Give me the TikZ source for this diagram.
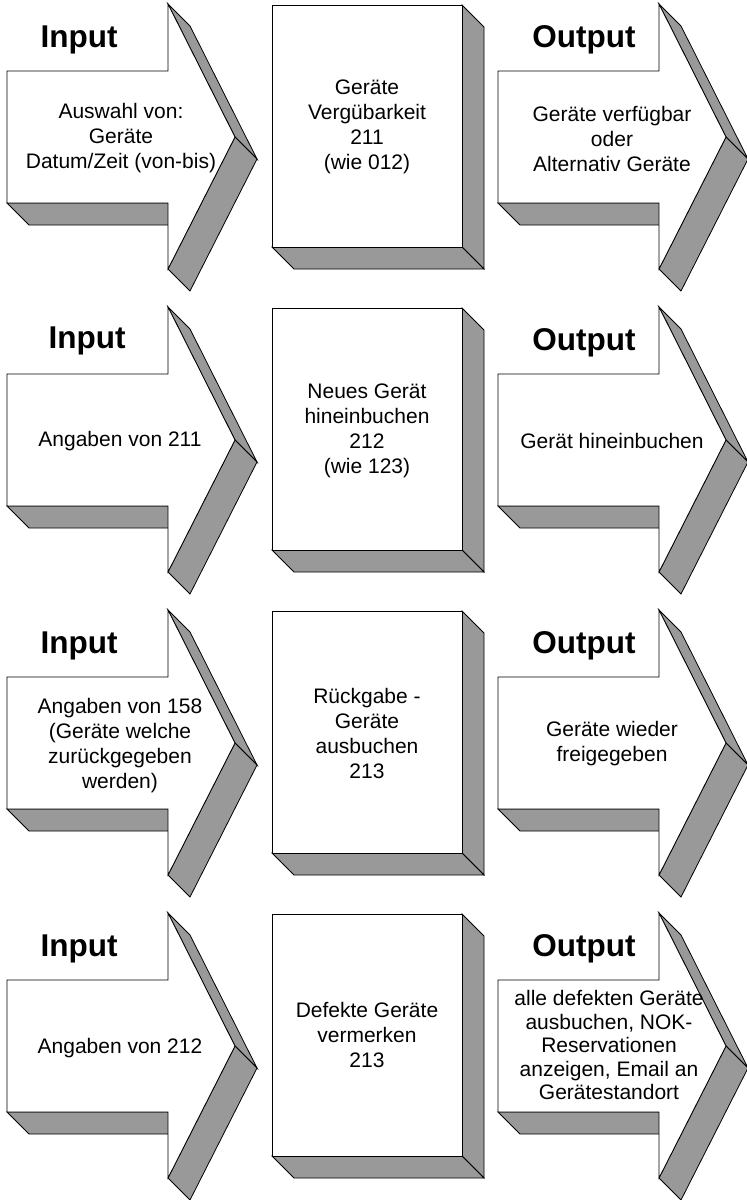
\documentclass[tikz,border=0pt]{standalone}
\usepackage{fontspec}
\setmainfont{Liberation Sans}
\usepackage{tikz}
\definecolor{sidegray}{RGB}{153,153,153}
\tikzset{
  face/.style={draw=black,fill=white,line width=0.8pt},
  side/.style={draw=black,fill=sidegray,line width=0.8pt},
  % 3D block arrow, origin = top left corner of the shaft
  pics/ioarrow/.style={code={
    \draw[side] (161,-67) -- (183,-45) -- (250,88) -- (228,66) -- cycle;
    \draw[side] (228,66) -- (250,88) -- (183,220) -- (161,198) -- cycle;
    \draw[side] (0,132) -- (22,154) -- (183,154) -- (161,132) -- cycle;
    \draw[face] (0,0) -- (161,0) -- (161,-67) -- (228,66) -- (161,198) -- (161,132) -- (0,132) -- cycle;
  }},
  % 3D box, origin = top left corner
  pics/procbox/.style={code={
    \draw[side] (190,0) -- (212,22) -- (212,264) -- (190,242) -- cycle;
    \draw[side] (0,242) -- (22,264) -- (212,264) -- (190,242) -- cycle;
    \draw[face] (0,0) rectangle (190,242);
  }},
}

\begin{document}
\begin{tikzpicture}[x=1pt,y=-1pt,
  txt/.style={align=center,inner sep=0pt,font=\fontsize{21}{25}\selectfont},
  ttl/.style={anchor=base,inner sep=0pt,font=\fontsize{31.5}{36}\selectfont\bfseries}]

        \useasboundingbox (0,0) rectangle (747,1200);

        % row 1
        \pic at (7,71) {ioarrow};
        \pic at (272,5) {procbox};
        \pic at (498,71) {ioarrow};
        \node[ttl] (ti1) at (79,47) {Input};
        \node[ttl] (to1) at (584,47) {Output};
        \node[txt] (in1) at (121,138) {Auswahl von:\\Geräte\\Datum/Zeit (von-bis)};
        \node[txt] (p1) at (367,127) {Geräte\\Vergübarkeit\\211\\(wie 012)};
        \node[txt] (out1) at (612,139) {Geräte verfügbar\\oder\\Alternativ Geräte};

        % row 2
        \pic at (7,374) {ioarrow};
        \pic at (272,308) {procbox};
        \pic at (498,374) {ioarrow};
        \node[ttl] (ti2) at (87,348) {Input};
        \node[ttl] (to2) at (584,350) {Output};
        \node[txt] (in2) at (120,441) {Angaben von 211};
        \node[txt] (p2) at (367,431) {Neues Gerät\\hineinbuchen\\212\\(wie 123)};
        \node[txt] (out2) at (612,441) {Gerät hineinbuchen};

        % row 3
        \pic at (7,677) {ioarrow};
        \pic at (272,611) {procbox};
        \pic at (498,677) {ioarrow};
        \node[ttl] (ti3) at (79,653) {Input};
        \node[ttl] (to3) at (584,653) {Output};
        \node[txt] (in3) at (120,746) {Angaben von 158\\(Geräte welche\\zurückgegeben\\werden)};
        \node[txt] (p3) at (367,733) {Rückgabe -\\Geräte\\ausbuchen\\213};
        \node[txt] (out3) at (612,744) {Geräte wieder\\freigegeben};

        % row 4
        \pic at (7,980) {ioarrow};
        \pic at (272,914) {procbox};
        \pic at (498,980) {ioarrow};
        \node[ttl] (ti4) at (79,956) {Input};
        \node[ttl] (to4) at (584,956) {Output};
        \node[txt] (in4) at (120,1048) {Angaben von 212};
        \node[txt] (p4) at (367,1035) {Defekte Geräte\\vermerken\\213};
        \node[txt,font=\fontsize{21}{23.5}\selectfont] (out4) at (609,1045) {alle defekten Geräte\\ausbuchen, NOK-\\Reservationen\\anzeigen, Email an\\Gerätestandort};

\end{tikzpicture}
\end{document}
